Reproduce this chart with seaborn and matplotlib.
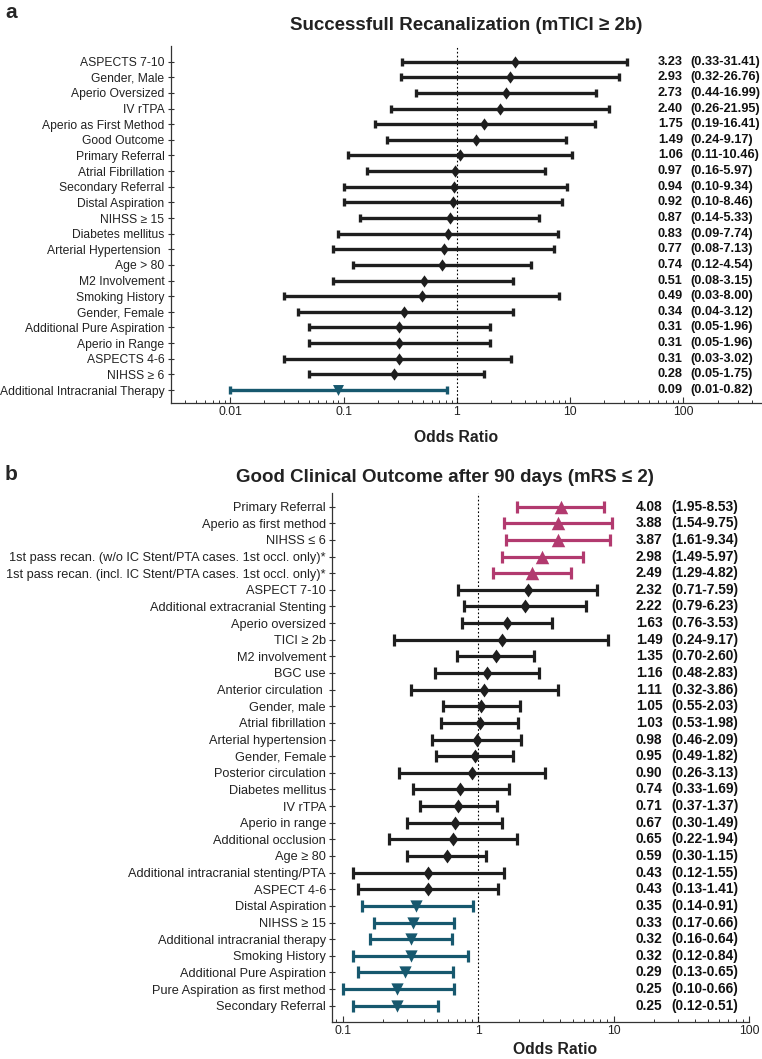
import numpy as np
import pandas as pd
import matplotlib
matplotlib.use("Agg")
import matplotlib.pyplot as plt
import seaborn as sns
from matplotlib.ticker import FixedLocator, LogLocator, NullFormatter
from matplotlib.transforms import blended_transform_factory

# panel a: successful recanalization
labels_a = ["ASPECTS 7-10", "Gender, Male", "Aperio Oversized", "IV rTPA",
            "Aperio as First Method", "Good Outcome", "Primary Referral",
            "Atrial Fibrillation", "Secondary Referral", "Distal Aspiration",
            "NIHSS \u2265 15", "Diabetes mellitus", "Arterial Hypertension ",
            "Age > 80", "M2 Involvement", "Smoking History", "Gender, Female",
            "Additional Pure Aspiration", "Aperio in Range", "ASPECTS 4-6",
            "NIHSS \u2265 6", "Additional Intracranial Therapy"]
or_a = [3.23, 2.93, 2.73, 2.40, 1.75, 1.49, 1.06, 0.97, 0.94, 0.92, 0.87,
        0.83, 0.77, 0.74, 0.51, 0.49, 0.34, 0.31, 0.31, 0.31, 0.28, 0.09]
lo_a = [0.33, 0.32, 0.44, 0.26, 0.19, 0.24, 0.11, 0.16, 0.10, 0.10, 0.14,
        0.09, 0.08, 0.12, 0.08, 0.03, 0.04, 0.05, 0.05, 0.03, 0.05, 0.01]
hi_a = [31.41, 26.76, 16.99, 21.95, 16.41, 9.17, 10.46, 5.97, 9.34, 8.46, 5.33,
        7.74, 7.13, 4.54, 3.15, 8.00, 3.12, 1.96, 1.96, 3.02, 1.75, 0.82]
group_a = ["ns"] * 21 + ["neg"]

# panel b: good clinical outcome
labels_b = ["Primary Referral", "Aperio as first method", "NIHSS \u2264 6",
            "1st pass recan. (w/o IC Stent/PTA cases. 1st occl. only)*",
            "1st pass recan. (incl. IC Stent/PTA cases. 1st occl. only)*",
            "ASPECT 7-10", "Additional extracranial Stenting", "Aperio oversized",
            "TICI \u2265 2b", "M2 involvement", "BGC use", "Anterior circulation ",
            "Gender, male", "Atrial fibrillation", "Arterial hypertension",
            "Gender, Female", "Posterior circulation", "Diabetes mellitus",
            "IV rTPA", "Aperio in range", "Additional occlusion", "Age \u2265 80",
            "Additional intracranial stenting/PTA", "ASPECT 4-6",
            "Distal Aspiration", "NIHSS \u2265 15", "Additional intracranial therapy",
            "Smoking History", "Additional Pure Aspiration",
            "Pure Aspiration as first method", "Secondary Referral"]
or_b = [4.08, 3.88, 3.87, 2.98, 2.49, 2.32, 2.22, 1.63, 1.49, 1.35, 1.16, 1.11,
        1.05, 1.03, 0.98, 0.95, 0.90, 0.74, 0.71, 0.67, 0.65, 0.59, 0.43, 0.43,
        0.35, 0.33, 0.32, 0.32, 0.29, 0.25, 0.25]
lo_b = [1.95, 1.54, 1.61, 1.49, 1.29, 0.71, 0.79, 0.76, 0.24, 0.70, 0.48, 0.32,
        0.55, 0.53, 0.46, 0.49, 0.26, 0.33, 0.37, 0.30, 0.22, 0.30, 0.12, 0.13,
        0.14, 0.17, 0.16, 0.12, 0.13, 0.10, 0.12]
hi_b = [8.53, 9.75, 9.34, 5.97, 4.82, 7.59, 6.23, 3.53, 9.17, 2.60, 2.83, 3.86,
        2.03, 1.98, 2.09, 1.82, 3.13, 1.69, 1.37, 1.49, 1.94, 1.15, 1.55, 1.41,
        0.91, 0.66, 0.64, 0.84, 0.65, 0.66, 0.51]
group_b = ["pos"] * 5 + ["ns"] * 19 + ["neg"] * 7

xticks_a = [0.01, 0.1, 1, 10, 100]
xticks_b = [0.1, 1, 10, 100]

colors = {"pos": "#B23A6F", "ns": "#1E1E1E", "neg": "#17586E"}

sns.set_style("ticks")
plt.rcParams["font.family"] = ["Liberation Sans", "DejaVu Sans"]
plt.rcParams["axes.edgecolor"] = "#333333"
plt.rcParams["axes.linewidth"] = 0.9

W, H = 762, 1059
fig = plt.figure(figsize=(W / 100, H / 100), dpi=100)


def diamond(r):
    return [(0, 1), (r, 0), (0, -1), (-r, 0), (0, 1)]


def forest(ax, labels, odds, lo, hi, groups, xlim, ylim, xticks, lw, cap,
           msize, lab_size, lab_pad, val_size, x_num, x_ci):
    df = pd.DataFrame({"label": labels, "odds": odds, "lo": lo, "hi": hi,
                       "group": groups})
    df["y"] = np.arange(len(df))
    ax.set_xscale("log")
    ax.axvline(1, color="black", lw=0.8, ls=(0, (1.5, 2)), zorder=1)
    for g, sub in df.groupby("group"):
        ax.errorbar(sub["odds"], sub["y"],
                    xerr=[sub["odds"] - sub["lo"], sub["hi"] - sub["odds"]],
                    fmt="none", ecolor=colors[g], elinewidth=lw,
                    capsize=cap, capthick=lw, zorder=2)
    markers = {"pos": "^", "ns": diamond(0.72), "neg": "v"}
    for g, sub in df.groupby("group"):
        sns.scatterplot(data=sub, x="odds", y="y", color=colors[g],
                        marker=markers[g], s=msize[g], linewidth=0,
                        legend=False, ax=ax, zorder=3)
    ax.set_xlim(*xlim)
    ax.set_ylim(*ylim)
    ax.set_yticks(df["y"])
    ax.set_yticklabels(df["label"], fontsize=lab_size)
    ax.xaxis.set_major_locator(FixedLocator(xticks))
    ax.set_xticklabels([f"{t:g}" for t in xticks], fontsize=8.8)
    ax.xaxis.set_minor_locator(LogLocator(base=10, subs=np.arange(2, 10)))
    ax.xaxis.set_minor_formatter(NullFormatter())
    ax.tick_params(axis="y", direction="inout", length=5, width=0.8,
                   pad=lab_pad, colors="#333333", labelcolor="#222222")
    ax.tick_params(axis="x", which="major", direction="in", length=4,
                   width=0.8, pad=2.5, colors="#333333", labelcolor="#222222")
    ax.tick_params(axis="x", which="minor", direction="in", length=2.2,
                   width=0.7, colors="#333333")
    ax.set_xlabel("")
    ax.set_ylabel("")
    sns.despine(ax=ax)
    tr = blended_transform_factory(fig.transFigure, ax.transData)
    for _, r in df.iterrows():
        ax.text(x_num, r["y"], f"{r['odds']:.2f}", transform=tr, ha="left",
                va="center", fontsize=val_size, fontweight="bold", color="#111111")
        ax.text(x_ci, r["y"], f"({r['lo']:.2f}-{r['hi']:.2f})", transform=tr,
                ha="left", va="center", fontsize=val_size, fontweight="bold",
                color="#111111")


ax_a = fig.add_axes([171 / W, 1 - 403 / H, (W - 171) / W, (403 - 45.7) / H])
forest(ax_a, labels_a, or_a, lo_a, hi_a, group_a,
       xlim=(0.003, 493), ylim=(21.83, -1.02), xticks=xticks_a,
       lw=2.4, cap=2.9, msize={"pos": 60, "ns": 78, "neg": 62},
       lab_size=8.7, lab_pad=2.3, val_size=9.2,
       x_num=658 / W, x_ci=690 / W)

ax_b = fig.add_axes([331.7 / W, 1 - 1022 / H, (749 - 331.7) / W, (1022 - 493) / H])
forest(ax_b, labels_b, or_b, lo_b, hi_b, group_b,
       xlim=(0.083, 100), ylim=(30.98, -0.82), xticks=xticks_b,
       lw=2.3, cap=4.3, msize={"pos": 94, "ns": 100, "neg": 78},
       lab_size=9.2, lab_pad=1.6, val_size=9.9,
       x_num=636 / W, x_ci=671 / W)

fig.text(466 / W, 1 - 25 / H, "Successfull Recanalization (mTICI \u2265 2b)",
         ha="center", va="center", fontsize=13.5, fontweight="bold", color="#222222")
fig.text(445 / W, 1 - 477 / H, "Good Clinical Outcome after 90 days (mRS \u2264 2)",
         ha="center", va="center", fontsize=13.5, fontweight="bold", color="#222222")
fig.text(5 / W, 1 - 13 / H, "a", ha="left", va="center", fontsize=15,
         fontweight="bold")
fig.text(5 / W, 1 - 475 / H, "b", ha="left", va="center", fontsize=15,
         fontweight="bold")
fig.text(456 / W, 1 - 437 / H, "Odds Ratio", ha="center", va="center",
         fontsize=11.3, fontweight="bold", color="#222222")
fig.text(555 / W, 1 - 1050 / H, "Odds Ratio", ha="center", va="center",
         fontsize=11.3, fontweight="bold", color="#222222")

fig.savefig("out.png", dpi=100)
